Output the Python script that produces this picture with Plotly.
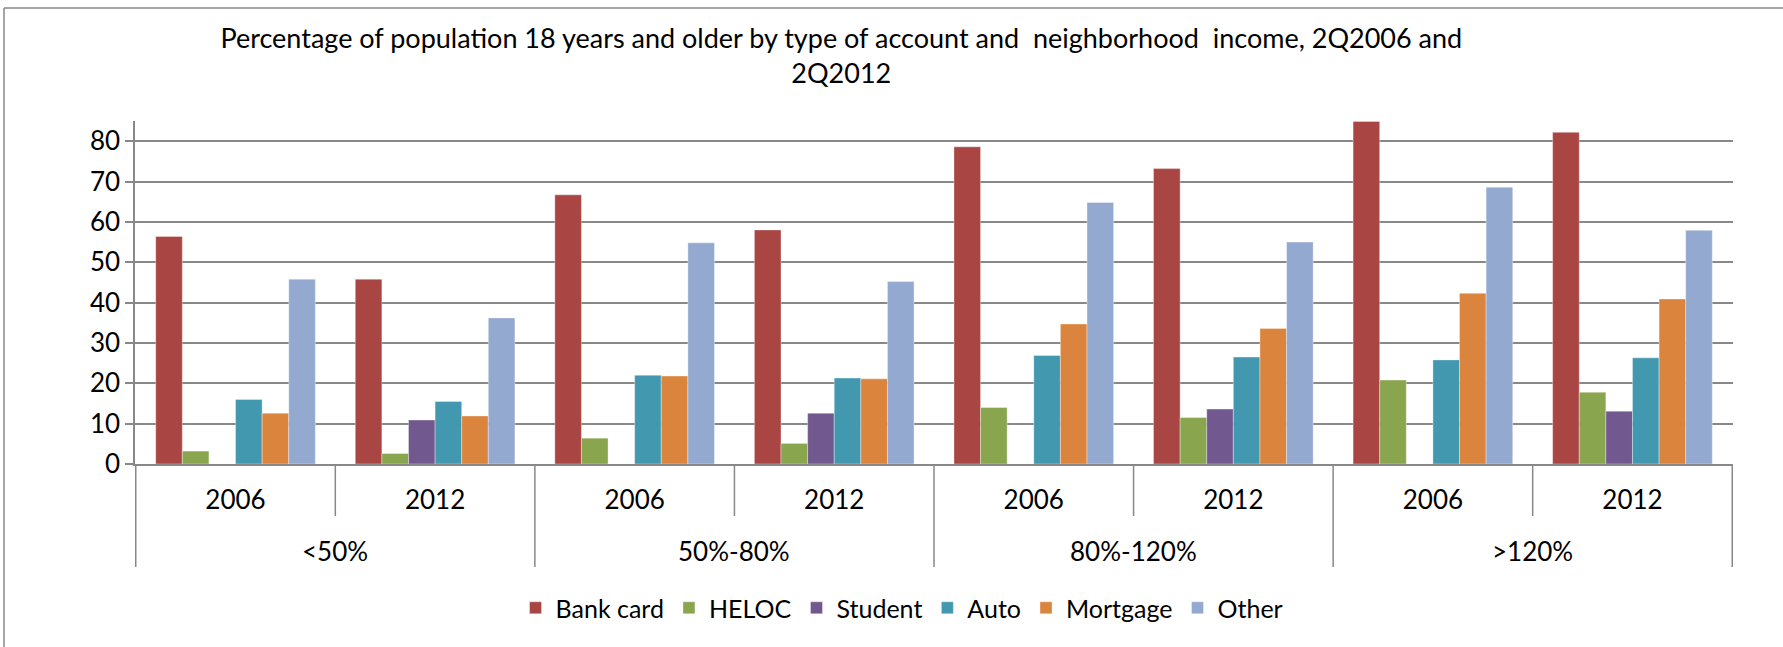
import plotly.graph_objects as go

# Neighborhood income groups and survey years
income_groups = ["<50%", "50%-80%", "80%-120%", ">120%"]
years = ["2006", "2012"]

# Percent of population 18+ holding each type of account (2Q2006, 2Q2012 per income group)
bank_card = [56.4, 45.8, 66.7, 58.0, 78.6, 73.2, 84.9, 82.2]
heloc = [3.2, 2.6, 6.4, 5.1, 14.0, 11.5, 20.8, 17.8]
student = [None, 10.9, None, 12.6, None, 13.6, None, 13.1]
auto = [16.0, 15.5, 22.0, 21.3, 26.9, 26.5, 25.8, 26.3]
mortgage = [12.6, 11.9, 21.8, 21.1, 34.7, 33.6, 42.3, 40.9]
other = [45.8, 36.2, 54.8, 45.2, 64.8, 55.0, 68.6, 57.9]

y_ticks = [0, 10, 20, 30, 40, 50, 60, 70, 80]

series = [
    ("Bank card", bank_card, "#A94643"),
    ("HELOC", heloc, "#89A54E"),
    ("Student", student, "#71588F"),
    ("Auto", auto, "#4198AF"),
    ("Mortgage", mortgage, "#DB843D"),
    ("Other", other, "#93A9CF"),
]

# One category per (income group, year) pair
cats = [f"{g} {y}" for g in income_groups for y in years]
year_labels = [y for g in income_groups for y in years]

FONT = "Lato, 'Open Sans', sans-serif"
GRAY = "#888888"
TICK_SIZE = 26

fig = go.Figure()
for name, vals, color in series:
    fig.add_trace(go.Bar(
        x=cats, y=vals, name=name,
        marker=dict(color=color, line=dict(width=0.6, color="rgba(255,255,255,0.6)")),
    ))

fig.update_layout(
    width=1783, height=647,
    margin=dict(l=135, r=50, t=121, b=183),
    paper_bgcolor="white", plot_bgcolor="white",
    barmode="group", bargap=0.2, bargroupgap=0,
    font=dict(family=FONT, size=TICK_SIZE, color="black"),
    title=dict(
        text="Percentage of population 18 years and older by type of account and  neighborhood  income, 2Q2006 and<br>2Q2012",
        x=0.442, xanchor="center", xref="paper",
        y=1 - 48 / 647, yanchor="top", yref="container",
        font=dict(family=FONT, size=27, color="black"),
    ),
    showlegend=True,
    legend=dict(
        orientation="h", x=0.48, xanchor="center", y=-0.42, yanchor="middle",
        font=dict(family=FONT, size=25), traceorder="normal",
        itemwidth=30, tracegroupgap=0,
    ),
)

fig.update_yaxes(
    range=[0, 85], tickvals=y_ticks,
    showgrid=True, gridcolor=GRAY, gridwidth=1.5,
    showline=True, linecolor=GRAY, linewidth=1.5,
    ticks="outside", ticklen=8, tickcolor=GRAY, tickwidth=1.5,
    zeroline=False, tickfont=dict(family=FONT, size=TICK_SIZE),
)
fig.update_xaxes(
    type="category", tickvals=cats, ticktext=year_labels,
    showline=True, linecolor=GRAY, linewidth=1.5,
    ticks="", showgrid=False, ticklabelstandoff=12,
    tickfont=dict(family=FONT, size=TICK_SIZE),
)

# Dividers below the category axis: short ones between years, long ones between income groups
plot_h = 343
for i in range(len(income_groups) + 1):
    xb = 2 * i - 0.5
    fig.add_shape(type="line", xref="x", yref="paper", x0=xb, x1=xb,
                  y0=0, y1=-103 / plot_h, line=dict(color=GRAY, width=1.5))
for i in range(len(income_groups)):
    xb = 2 * i + 0.5
    fig.add_shape(type="line", xref="x", yref="paper", x0=xb, x1=xb,
                  y0=0, y1=-52 / plot_h, line=dict(color=GRAY, width=1.5))

# Income group labels
for i, g in enumerate(income_groups):
    fig.add_annotation(text=g, x=2 * i + 0.5, xref="x", y=-87 / plot_h, yref="paper",
                       yanchor="middle", showarrow=False, font=dict(family=FONT, size=TICK_SIZE))

# Chart frame (top and left edges)
frame_x0 = (4 - 135) / 1598
frame_x1 = (1783 - 135) / 1598
frame_y0 = (464 - 8) / plot_h
frame_y1 = (464 - 647) / plot_h
fig.add_shape(type="line", xref="paper", yref="paper", x0=frame_x0, x1=frame_x1,
              y0=frame_y0, y1=frame_y0, line=dict(color=GRAY, width=1.5))
fig.add_shape(type="line", xref="paper", yref="paper", x0=frame_x0, x1=frame_x0,
              y0=frame_y0, y1=frame_y1, line=dict(color=GRAY, width=1.5))

fig.write_html("out.html")
